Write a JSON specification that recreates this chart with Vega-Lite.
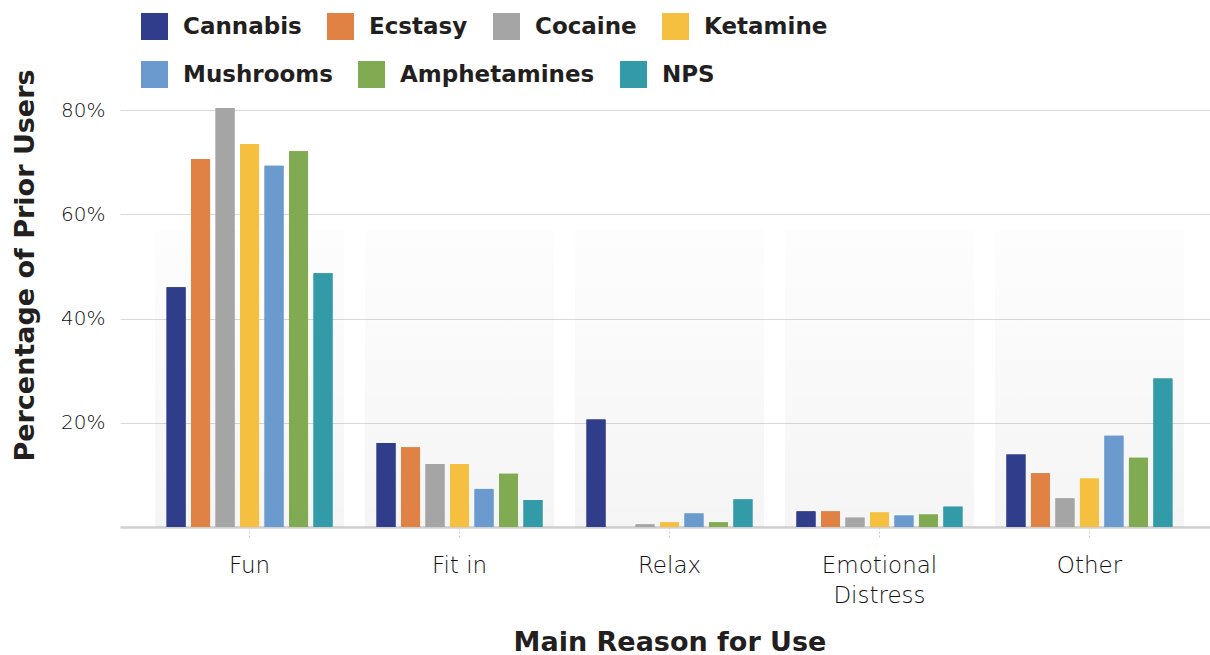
{
  "$schema": "https://vega.github.io/schema/vega-lite/v6.json",
  "width": 1090,
  "height": 417,
  "autosize": {"type": "none"},
  "padding": {"left": 120, "top": 110, "right": 0, "bottom": 128},
  "background": "white",
  "config": {
    "view": {"stroke": null},
    "font": "DejaVu Sans",
    "axisX": {
      "domainColor": "#d0d0d0",
      "domainWidth": 2.5,
      "ticks": true,
      "tickColor": "#cccccc",
      "tickDash": [2, 2],
      "tickSize": 12,
      "tickWidth": 1,
      "labelFont": "DejaVu Sans",
      "labelFontWeight": 200,
      "labelFontSize": 23,
      "labelColor": "#111111",
      "labelPadding": 15,
      "labelAngle": 0,
      "labelLineHeight": 30,
      "titleFont": "DejaVu Sans",
      "titleFontWeight": "bold",
      "titleFontSize": 27,
      "titleColor": "#231f20",
      "titleY": 123,
      "titleBaseline": "alphabetic",
      "grid": false,
      "zindex": 1
    },
    "axisY": {
      "domain": false,
      "ticks": false,
      "grid": true,
      "gridColor": "#d9d9d9",
      "gridWidth": 1.2,
      "labelFont": "DejaVu Sans",
      "labelFontWeight": 200,
      "labelFontSize": 20,
      "labelColor": "#111111",
      "labelPadding": 15,
      "titleFont": "DejaVu Sans",
      "titleFontWeight": "bold",
      "titleFontSize": 27,
      "titleColor": "#231f20",
      "titleAngle": -90,
      "titleX": -87,
      "titleY": 155,
      "titleAlign": "center",
      "titleBaseline": "alphabetic"
    },
    "legend": {
      "orient": "none",
      "direction": "horizontal",
      "symbolType": "square",
      "symbolSize": 729,
      "symbolStrokeWidth": 0,
      "symbolOpacity": 1,
      "labelFont": "DejaVu Sans",
      "labelFontWeight": "bold",
      "labelFontSize": 23,
      "labelColor": "#231f20",
      "labelOffset": 15,
      "columnPadding": 25,
      "rowPadding": 21,
      "labelLimit": 400
    }
  },
  "datasets": {
    "reasons": [
      {"Reason": "Fun"},
      {"Reason": "Fit in"},
      {"Reason": "Relax"},
      {"Reason": "Emotional Distress"},
      {"Reason": "Other"}
    ],
    "usage": [
      {"Reason": "Fun", "Drug": "Cannabis", "Pct": 46.0},
      {"Reason": "Fun", "Drug": "Ecstasy", "Pct": 70.6},
      {"Reason": "Fun", "Drug": "Cocaine", "Pct": 80.4},
      {"Reason": "Fun", "Drug": "Ketamine", "Pct": 73.5},
      {"Reason": "Fun", "Drug": "Mushrooms", "Pct": 69.3},
      {"Reason": "Fun", "Drug": "Amphetamines", "Pct": 72.1},
      {"Reason": "Fun", "Drug": "NPS", "Pct": 48.7},
      {"Reason": "Fit in", "Drug": "Cannabis", "Pct": 16.1},
      {"Reason": "Fit in", "Drug": "Ecstasy", "Pct": 15.3},
      {"Reason": "Fit in", "Drug": "Cocaine", "Pct": 12.1},
      {"Reason": "Fit in", "Drug": "Ketamine", "Pct": 12.1},
      {"Reason": "Fit in", "Drug": "Mushrooms", "Pct": 7.3},
      {"Reason": "Fit in", "Drug": "Amphetamines", "Pct": 10.2},
      {"Reason": "Fit in", "Drug": "NPS", "Pct": 5.2},
      {"Reason": "Relax", "Drug": "Cannabis", "Pct": 20.6},
      {"Reason": "Relax", "Drug": "Ecstasy", "Pct": 0},
      {"Reason": "Relax", "Drug": "Cocaine", "Pct": 0.5},
      {"Reason": "Relax", "Drug": "Ketamine", "Pct": 0.9},
      {"Reason": "Relax", "Drug": "Mushrooms", "Pct": 2.6},
      {"Reason": "Relax", "Drug": "Amphetamines", "Pct": 0.9},
      {"Reason": "Relax", "Drug": "NPS", "Pct": 5.3},
      {"Reason": "Emotional Distress", "Drug": "Cannabis", "Pct": 3.0},
      {"Reason": "Emotional Distress", "Drug": "Ecstasy", "Pct": 3.0},
      {"Reason": "Emotional Distress", "Drug": "Cocaine", "Pct": 1.8},
      {"Reason": "Emotional Distress", "Drug": "Ketamine", "Pct": 2.8},
      {"Reason": "Emotional Distress", "Drug": "Mushrooms", "Pct": 2.2},
      {"Reason": "Emotional Distress", "Drug": "Amphetamines", "Pct": 2.4},
      {"Reason": "Emotional Distress", "Drug": "NPS", "Pct": 3.9},
      {"Reason": "Other", "Drug": "Cannabis", "Pct": 13.9},
      {"Reason": "Other", "Drug": "Ecstasy", "Pct": 10.3},
      {"Reason": "Other", "Drug": "Cocaine", "Pct": 5.5},
      {"Reason": "Other", "Drug": "Ketamine", "Pct": 9.3},
      {"Reason": "Other", "Drug": "Mushrooms", "Pct": 17.5},
      {"Reason": "Other", "Drug": "Amphetamines", "Pct": 13.3},
      {"Reason": "Other", "Drug": "NPS", "Pct": 28.5}
    ]
  },
  "encoding": {
    "x": {
      "field": "Reason",
      "type": "nominal",
      "sort": ["Fun", "Fit in", "Relax", "Emotional Distress", "Other"],
      "scale": {"paddingInner": 0.1, "paddingOuter": 0.167, "range": [0, 1099]},
      "title": "Main Reason for Use",
      "axis": {
        "labelExpr": "datum.value == 'Emotional Distress' ? ['Emotional', 'Distress'] : datum.value"
      }
    }
  },
  "resolve": {
    "scale": {"color": "independent", "fill": "independent"},
    "legend": {"color": "independent", "fill": "independent"}
  },
  "layer": [
    {
      "data": {"name": "reasons"},
      "mark": {
        "type": "bar",
        "fill": {
          "gradient": "linear",
          "x1": 0, "y1": 0, "x2": 0, "y2": 1,
          "stops": [
            {"offset": 0, "color": "rgba(0,0,0,0.008)"},
            {"offset": 1, "color": "rgba(0,0,0,0.04)"}
          ]
        }
      },
      "encoding": {
        "y": {
          "datum": 57,
          "type": "quantitative",
          "scale": {"domain": [0, 80], "nice": false},
          "title": "Percentage of Prior Users",
          "axis": {
            "values": [0, 20, 40, 60, 80],
            "labelExpr": "datum.value == 0 ? '' : datum.value + '%'"
          }
        }
      }
    },
    {
      "data": {"name": "usage"},
      "mark": {"type": "bar"},
      "encoding": {
        "xOffset": {
          "field": "Drug",
          "type": "nominal",
          "sort": ["Cannabis", "Ecstasy", "Cocaine", "Ketamine", "Mushrooms", "Amphetamines", "NPS"],
          "scale": {"paddingInner": 0.224, "paddingOuter": 0.47}
        },
        "y": {
          "field": "Pct",
          "type": "quantitative",
          "title": "Percentage of Prior Users"
        },
        "color": {
          "field": "Drug",
          "type": "nominal",
          "scale": {
            "domain": ["Cannabis", "Ecstasy", "Cocaine", "Ketamine", "Mushrooms", "Amphetamines", "NPS"],
            "range": ["#2f3d8a", "#df8244", "#a5a5a5", "#f5c040", "#6b9acf", "#80ab52", "#339ba7"]
          },
          "legend": {
            "title": null,
            "values": ["Cannabis", "Ecstasy", "Cocaine", "Ketamine"],
            "legendX": 21,
            "legendY": -97
          }
        }
      }
    },
    {
      "data": {"name": "usage"},
      "mark": {"type": "bar"},
      "encoding": {
        "xOffset": {
          "field": "Drug",
          "type": "nominal",
          "sort": ["Cannabis", "Ecstasy", "Cocaine", "Ketamine", "Mushrooms", "Amphetamines", "NPS"],
          "scale": {"paddingInner": 0.224, "paddingOuter": 0.47}
        },
        "y": {
          "field": "Pct",
          "type": "quantitative",
          "title": "Percentage of Prior Users"
        },
        "fill": {
          "field": "Drug",
          "type": "nominal",
          "scale": {
            "domain": ["Mushrooms", "Amphetamines", "NPS", "Cannabis", "Ecstasy", "Cocaine", "Ketamine"],
            "range": ["#6b9acf", "#80ab52", "#339ba7", "#2f3d8a", "#df8244", "#a5a5a5", "#f5c040"]
          },
          "legend": {
            "title": null,
            "values": ["Mushrooms", "Amphetamines", "NPS"],
            "legendX": 21,
            "legendY": -49
          }
        }
      }
    }
  ]
}
